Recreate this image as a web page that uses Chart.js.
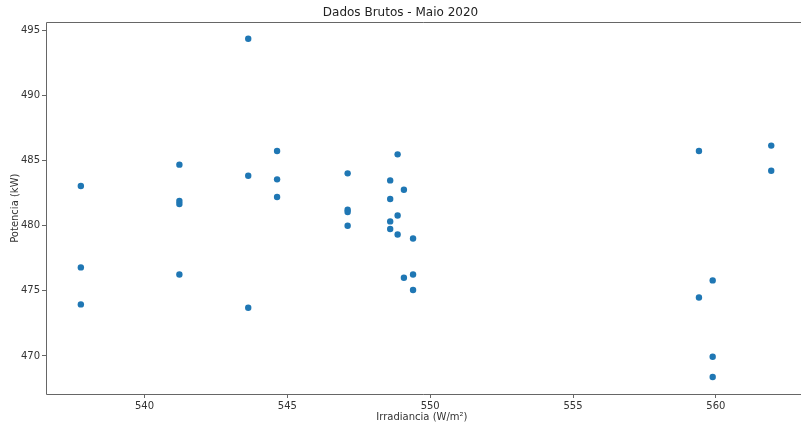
<!DOCTYPE html>
<html>
<head>
<meta charset="utf-8">
<script src="https://cdn.jsdelivr.net/npm/chart.js@4/dist/chart.umd.min.js"></script>
<style>
  html, body { margin: 0; padding: 0; background: #fff; }
  #wrap { width: 801px; height: 428px; }
</style>
</head>
<body>
<div id="wrap"><canvas id="c" width="801" height="428"></canvas></div>
<script>
// Irradiância (W/m²) e potência (kW) medidas em maio de 2020
const irradiancia = [
  537.77, 537.77, 537.77,
  541.22, 541.22, 541.22, 541.22,
  543.63, 543.63, 543.63,
  544.64, 544.64, 544.64,
  547.11, 547.11, 547.11, 547.11,
  548.60, 548.60, 548.60, 548.60,
  548.86, 548.86, 548.86,
  549.08, 549.08,
  549.40, 549.40, 549.40,
  559.41, 559.41,
  559.89, 559.89, 559.89,
  561.94, 561.94
];
const potencia = [
  483.05, 476.80, 473.96,
  484.69, 481.90, 481.67, 476.26,
  494.36, 483.84, 473.70,
  485.74, 483.56, 482.20,
  484.02, 481.23, 481.05, 480.00,
  483.48, 482.05, 480.33, 479.75,
  485.48, 480.79, 479.33,
  482.76, 476.00,
  479.02, 476.26, 475.06,
  485.74, 474.49,
  475.80, 469.94, 468.38,
  486.15, 484.22
];

const xTicks = [540, 545, 550, 555, 560];
const yTicks = [470, 475, 480, 485, 490, 495];
const xRange = [536.55, 562.87];
const yRange = [467.08, 495.61];

const pontos = irradiancia.map((x, i) => ({ x: x, y: potencia[i] }));

// eixos: linhas à esquerda, em cima e em baixo da área do gráfico
const eixos = {
  id: 'eixos',
  afterDraw(chart) {
    const { ctx, chartArea: a } = chart;
    const l = Math.round(a.left) + 0.5;
    const t = Math.round(a.top) + 0.5;
    const b = Math.round(a.bottom) + 0.5;
    const r = chart.width;
    ctx.save();
    ctx.strokeStyle = '#666';
    ctx.lineWidth = 1;
    ctx.beginPath();
    ctx.moveTo(r, t); ctx.lineTo(l, t); ctx.lineTo(l, b); ctx.lineTo(r, b);
    ctx.stroke();
    ctx.restore();
  }
};

const fonte = { family: 'DejaVu Sans', size: 10 };

new Chart(document.getElementById('c'), {
  type: 'scatter',
  data: {
    datasets: [{
      data: pontos,
      backgroundColor: '#1f77b4',
      borderWidth: 0,
      pointRadius: 3.2,
      pointHoverRadius: 3.2
    }]
  },
  options: {
    responsive: false,
    animation: false,
    devicePixelRatio: 1,
    layout: { padding: { left: 0, right: 0, top: 0, bottom: 0 } },
    plugins: {
      legend: { display: false },
      tooltip: { enabled: false },
      title: {
        display: true,
        text: 'Dados Brutos - Maio 2020',
        color: '#222',
        font: { family: 'DejaVu Sans', size: 12, weight: 'normal' },
        padding: { top: 6, bottom: 2 }
      }
    },
    scales: {
      x: {
        type: 'linear',
        min: xRange[0],
        max: xRange[1],
        afterBuildTicks(scale) { scale.ticks = xTicks.map(v => ({ value: v })); },
        afterFit(scale) { scale.height = 34; },
        grid: { display: true, drawOnChartArea: false, drawTicks: true, tickLength: 4, color: '#666' },
        border: { display: false },
        ticks: { color: '#333', font: fonte, padding: 2, maxRotation: 0 },
        title: {
          display: true,
          text: 'Irradiancia (W/m²)',
          color: '#333',
          font: fonte,
          padding: { top: 0, bottom: 5 }
        }
      },
      y: {
        type: 'linear',
        min: yRange[0],
        max: yRange[1],
        afterBuildTicks(scale) { scale.ticks = yTicks.map(v => ({ value: v })); },
        afterFit(scale) { scale.width = 46; },
        grid: { display: true, drawOnChartArea: false, drawTicks: true, tickLength: 4, color: '#666' },
        border: { display: false },
        ticks: { color: '#333', font: fonte, padding: 2 },
        title: {
          display: true,
          text: 'Potencia (kW)',
          color: '#333',
          font: fonte,
          padding: { top: 9, bottom: 0 }
        }
      }
    }
  },
  plugins: [eixos]
});
</script>
</body>
</html>
